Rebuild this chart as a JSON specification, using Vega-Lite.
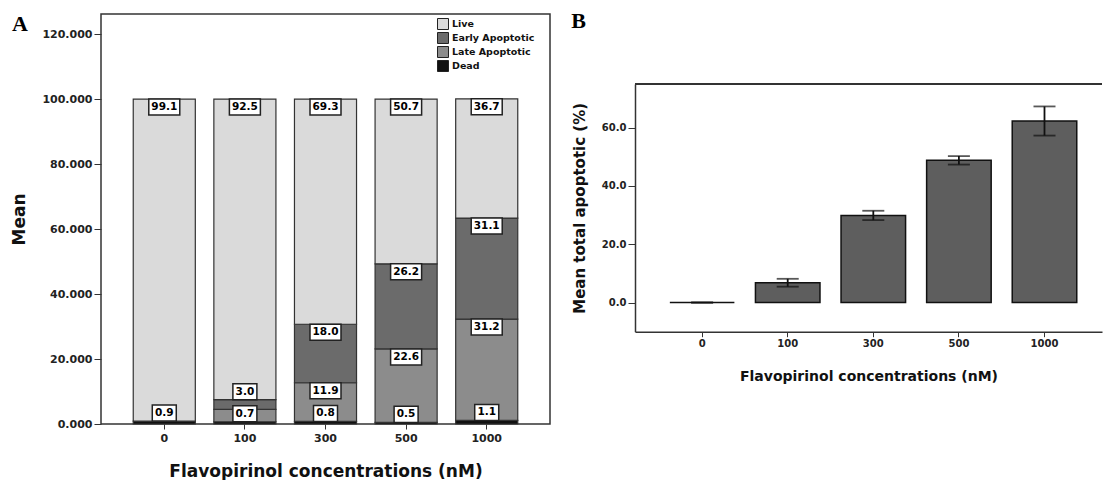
{
  "$schema": "https://vega.github.io/schema/vega-lite/v6.json",
  "padding": {"left": 10, "top": 10, "right": 0, "bottom": 0},
  "spacing": 20,
  "background": "white",
  "config": {
    "font": "DejaVu Sans",
    "axis": {"labelFont": "DejaVu Sans", "labelFontWeight": "bold", "labelFontSize": 11, "labelColor": "#222", "titleFont": "DejaVu Sans", "titleFontWeight": "bold", "titleColor": "#111", "tickColor": "#333", "domainColor": "#333", "grid": false},
    "title": {"font": "Liberation Serif", "fontWeight": "bold", "fontSize": 22, "anchor": "start", "frame": "bounds", "color": "#000"}
  },
  "datasets": {
    "stack": [
      {"conc": 0, "cat": "Dead", "rank": 1, "value": 0.9},
      {"conc": 0, "cat": "Late Apoptotic", "rank": 2, "value": 0.0},
      {"conc": 0, "cat": "Early Apoptotic", "rank": 3, "value": 0.0},
      {"conc": 0, "cat": "Live", "rank": 4, "value": 99.1},
      {"conc": 100, "cat": "Dead", "rank": 1, "value": 0.7},
      {"conc": 100, "cat": "Late Apoptotic", "rank": 2, "value": 3.8},
      {"conc": 100, "cat": "Early Apoptotic", "rank": 3, "value": 3.0},
      {"conc": 100, "cat": "Live", "rank": 4, "value": 92.5},
      {"conc": 300, "cat": "Dead", "rank": 1, "value": 0.8},
      {"conc": 300, "cat": "Late Apoptotic", "rank": 2, "value": 11.9},
      {"conc": 300, "cat": "Early Apoptotic", "rank": 3, "value": 18.0},
      {"conc": 300, "cat": "Live", "rank": 4, "value": 69.3},
      {"conc": 500, "cat": "Dead", "rank": 1, "value": 0.5},
      {"conc": 500, "cat": "Late Apoptotic", "rank": 2, "value": 22.6},
      {"conc": 500, "cat": "Early Apoptotic", "rank": 3, "value": 26.2},
      {"conc": 500, "cat": "Live", "rank": 4, "value": 50.7},
      {"conc": 1000, "cat": "Dead", "rank": 1, "value": 1.1},
      {"conc": 1000, "cat": "Late Apoptotic", "rank": 2, "value": 31.2},
      {"conc": 1000, "cat": "Early Apoptotic", "rank": 3, "value": 31.1},
      {"conc": 1000, "cat": "Live", "rank": 4, "value": 36.7}
    ],
    "total": [
      {"conc": 0, "mean": 0.0, "err": 0.1},
      {"conc": 100, "mean": 6.8, "err": 1.35},
      {"conc": 300, "mean": 29.9, "err": 1.6},
      {"conc": 500, "mean": 48.8, "err": 1.45},
      {"conc": 1000, "mean": 62.3, "err": 5.0}
    ]
  },
  "hconcat": [
    {
      "title": {"text": "A", "offset": -22, "dx": 1},
      "width": 449,
      "height": 410,
      "view": {"stroke": "#333", "strokeWidth": 1.5},
      "data": {"name": "stack"},
      "transform": [
        {"stack": "value", "groupby": ["conc"], "sort": [{"field": "rank", "order": "ascending"}], "as": ["v0", "v1"]}
      ],
      "encoding": {
        "x": {"field": "conc", "type": "ordinal",
          "scale": {"domain": [0, 100, 300, 500, 1000], "paddingInner": 0.23, "paddingOuter": 0.4},
          "axis": {"title": "Flavopirinol concentrations (nM)", "titleFontSize": 17, "titlePadding": 20, "labelAngle": 0, "tickSize": 5, "labelPadding": 3, "domain": false}},
        "y": {"field": "v1", "type": "quantitative",
          "scale": {"domain": [0, 126.2], "nice": false, "zero": false},
          "axis": {"title": "Mean", "titleFontSize": 17, "titlePadding": 13, "values": [0, 20, 40, 60, 80, 100, 120], "format": ".3f", "tickSize": 7, "labelPadding": 2, "domain": false}}
      },
      "layer": [
        {
          "mark": {"type": "bar", "stroke": "#333", "strokeWidth": 1.2},
          "encoding": {
            "y2": {"field": "v0"},
            "color": {"field": "cat", "type": "nominal",
              "scale": {"domain": ["Live", "Early Apoptotic", "Late Apoptotic", "Dead"], "range": ["#dadada", "#6b6b6b", "#8c8c8c", "#111111"]},
              "legend": {"orient": "none", "legendX": 336, "legendY": 4, "title": null, "padding": 0, "symbolType": "square", "symbolSize": 121, "symbolStrokeColor": "#222", "symbolStrokeWidth": 1, "labelFont": "DejaVu Sans", "labelFontWeight": "bold", "labelFontSize": 9.5, "labelColor": "#111", "rowPadding": -4, "labelOffset": 3}}
          }
        },
        {
          "transform": [{"filter": "datum.value >= 5"}],
          "mark": {"type": "point", "shape": "M-1,-0.516H1V0.516H-1Z", "size": 961, "filled": true, "fill": "white", "stroke": "#222", "strokeWidth": 1.5, "opacity": 1, "yOffset": 8}
        },
        {
          "transform": [{"filter": "datum.value >= 5"}],
          "mark": {"type": "text", "font": "DejaVu Sans", "fontWeight": "bold", "fontSize": 10.5, "baseline": "middle", "color": "#000", "yOffset": 8},
          "encoding": {"text": {"field": "value", "format": ".1f"}}
        },
        {
          "transform": [{"filter": "datum.value > 0 && datum.value < 5 && !(datum.conc == 100 && datum.cat == 'Late Apoptotic')"}],
          "mark": {"type": "point", "shape": "M-1,-0.667H1V0.667H-1Z", "size": 576, "filled": true, "fill": "white", "stroke": "#222", "strokeWidth": 1.5, "opacity": 1, "yOffset": -8}
        },
        {
          "transform": [{"filter": "datum.value > 0 && datum.value < 5 && !(datum.conc == 100 && datum.cat == 'Late Apoptotic')"}],
          "mark": {"type": "text", "font": "DejaVu Sans", "fontWeight": "bold", "fontSize": 10.5, "baseline": "middle", "color": "#000", "yOffset": -8},
          "encoding": {"text": {"field": "value", "format": ".1f"}}
        }
      ]
    },
    {
      "title": {"text": "B", "offset": -19, "dx": -1},
      "width": 467,
      "height": 410,
      "view": {"stroke": null},
      "data": {"name": "total"},
      "layer": [
        {
          "mark": {"type": "bar", "fill": "#5e5e5e", "stroke": "#111", "strokeWidth": 1.5},
          "encoding": {
            "x": {"field": "conc", "type": "ordinal",
              "scale": {"domain": [0, 100, 300, 500, 1000], "paddingInner": 0.246, "paddingOuter": 0.351, "align": 0.58},
              "axis": {"title": "Flavopirinol concentrations (nM)", "titleFontSize": 14, "titlePadding": 21, "labelFontSize": 10, "labelAngle": 0, "tickSize": 5, "labelPadding": 2, "domainWidth": 1.5, "offset": -92.3}},
            "y": {"field": "mean", "type": "quantitative",
              "scale": {"domain": [-10, 75], "range": [317.7, 70], "nice": false, "zero": false},
              "axis": {"title": "Mean total apoptotic (%)", "titleFontSize": 15, "titlePadding": 14, "labelFontSize": 10, "values": [0, 20, 40, 60], "format": ".1f", "tickSize": 7, "labelPadding": 2, "domainWidth": 1.5}},
            "y2": {"datum": 0}
          }
        },
        {
          "mark": {"type": "errorbar", "color": "#111", "thickness": 1.8, "ticks": {"size": 22}},
          "encoding": {
            "x": {"field": "conc", "type": "ordinal"},
            "y": {"field": "mean", "type": "quantitative", "title": "Mean total apoptotic (%)"},
            "yError": {"field": "err"}
          }
        },
        {
          "mark": {"type": "rule", "stroke": "#333", "strokeWidth": 1.5},
          "encoding": {"y": {"datum": 75}}
        }
      ]
    }
  ]
}
